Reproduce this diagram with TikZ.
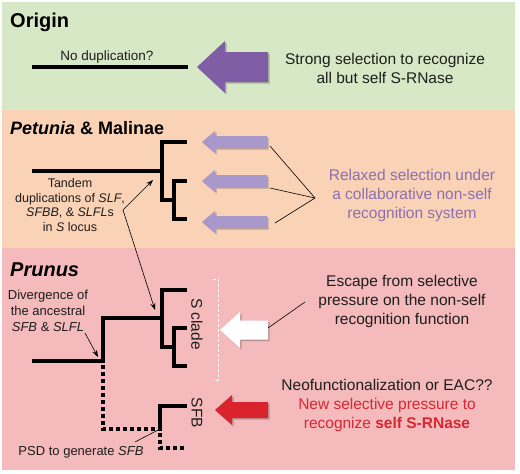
\documentclass[tikz,border=0pt]{standalone}
\usepackage{fontspec}
\setmainfont{Liberation Sans}
\usetikzlibrary{arrows.meta,shadows}
\definecolor{gbg}{RGB}{214,232,198}
\definecolor{pbg}{RGB}{250,210,182}
\definecolor{rbg}{RGB}{244,186,188}
\definecolor{dpur}{RGB}{128,94,166}
\definecolor{lpur}{RGB}{168,152,204}
\definecolor{tpur}{RGB}{140,112,174}
\definecolor{ared}{RGB}{217,36,46}
\definecolor{tred}{RGB}{214,40,50}
\definecolor{txt}{RGB}{30,30,30}
\begin{document}
\begin{tikzpicture}[x=1pt,y=-1pt,
  tree/.style={line width=3.2pt, line join=miter, line cap=rect},
  dotline/.style={line width=3.5pt, dash pattern=on 3.5pt off 3.5pt},
  thinln/.style={line width=0.6pt, black},
  shad/.style={drop shadow={shadow xshift=1.5pt, shadow yshift=-1.5pt, opacity=0.35, fill=black!70}},
  bigtxt/.style={font=\fontsize{15.5}{19}\selectfont, align=center, inner sep=0pt, text=txt},
  smalltxt/.style={font=\fontsize{13}{16}\selectfont, align=center, inner sep=0pt, text=txt},
  title/.style={font=\fontsize{20}{24}\selectfont\bfseries, inner sep=0pt, anchor=base west, text=black},
  dub/.style={{Stealth[length=7pt,width=5pt]}-{Stealth[length=7pt,width=5pt]}},
  sarr/.style={-{Stealth[length=7pt,width=5pt]}}
]
\useasboundingbox (0,0) rectangle (520,474);
\fill[white] (0,0) rectangle (520,474);
% panels
\fill[gbg] (2,2) rectangle (515,110);
\fill[pbg] (2,110) rectangle (515,248);
\fill[rbg] (2,248) rectangle (515,470);

% titles
\node[title] (tOrigin) at (10,27) {Origin};
\node[title, font=\fontsize{18}{22}\selectfont\bfseries] (tPet) at (10,134) {\textit{Petunia} \& Malinae};
\node[title] (tPru) at (10,276) {\textit{Prunus}};

% ---- Origin ----
\coordinate (o1) at (34,67);
\coordinate (o2) at (186,67);
\draw[tree] (o1) -- (o2);
\node[smalltxt, font=\fontsize{13.5}{16}\selectfont] (nodup) at (107,57) {No duplication?};
\fill[dpur, shad] (197,67) -- (225,41) -- (225,52) -- (268,52) -- (268,82) -- (225,82) -- (225,93) -- cycle;
\node[bigtxt] (strong) at (385,68) {Strong selection to recognize\\all but self S-RNase};

% ---- Petunia & Malinae ----
\coordinate (pr) at (34,171);
\coordinate (pj) at (162,171);
\draw[tree] (pr) -- (pj);
\draw[tree] (185,142) -- (162,142) -- (162,200) -- (174,200);
\draw[tree] (185,181) -- (174,181) -- (174,219) -- (185,219);
\node[smalltxt, font=\fontsize{12.5}{14.7}\selectfont] (tandem) at (70,205)
  {Tandem\\duplications of \textit{SLF},\\\textit{SFBB}, \& \textit{SLFL}s\\in \textit{S} locus};
\foreach \c/\n in {142/1,181/2,222/3}{
  \fill[lpur, shad] (202,\c) -- (215,\c-11) -- (215,\c-6) -- (267,\c-6) -- (267,\c+6) -- (215,\c+6) -- (215,\c+11) -- cycle;
}
\coordinate (la1) at (270,146);
\coordinate (la2) at (270,188);
\coordinate (la3) at (275,223);
\coordinate (lv) at (315,198);
\draw[thinln] (la1) -- (lv) -- (la3);
\draw[thinln] (la2) -- (lv);
\node[bigtxt, text=tpur] (relaxed) at (412,195) {Relaxed selection under\\a collaborative non-self\\recognition system};

% double arrow between the two trees
\coordinate (dupP) at (153,180);
\coordinate (dupV) at (123,210);
\coordinate (dupR) at (155,310);
\draw[thinln, dub] (dupP) -- (dupV) -- (dupR);

% ---- Prunus ----
\coordinate (rr) at (34,361);
\coordinate (rj) at (103,361);
\draw[tree] (rr) -- (rj) -- (103,318) -- (162,318);
\draw[tree] (185,290) -- (162,290) -- (162,347) -- (174,347);
\draw[tree] (185,328) -- (174,328) -- (174,366) -- (185,366);
\draw[dotline] (103,365) -- (103,429) -- (158,429);
\draw[dotline] (160,433) -- (160,448) -- (185,448);
\coordinate (sj) at (160,429);
\draw[tree] (sj) -- (160,406) -- (185,406);

\node[smalltxt] (diverg) at (48,311) {Divergence of\\the ancestral\\\textit{SFB} \& \textit{SLFL}};
\coordinate (dvs) at (85,333);
\coordinate (dve) at (98,357);
\draw[thinln, sarr] (dvs) -- (dve);

\node[smalltxt] (psd) at (81,452) {PSD to generate \textit{SFB}};
\coordinate (psdl) at (135,442);
\draw[thinln] (psdl) -- (sj);

\node[bigtxt, rotate=-90] (sclade) at (197,324) {S clade};
\node[bigtxt, rotate=-90] (sfb) at (197,413) {SFB};
\draw[white, line width=1pt, dash pattern=on 3pt off 2pt] (213,279) -- (218,279) -- (218,380) -- (213,380);

\fill[white, shad] (220,330) -- (240,312) -- (240,320.5) -- (268,320.5) -- (268,339.5) -- (240,339.5) -- (240,348) -- cycle;
\coordinate (wa) at (268,328);
\coordinate (we) at (305,302);
\draw[thinln] (wa) -- (we);
\node[bigtxt] (escape) at (402,301) {Escape from selective\\pressure on the non-self\\recognition function};

\fill[ared, shad] (215,410) -- (232,395) -- (232,402) -- (268,402) -- (268,418) -- (232,418) -- (232,425) -- cycle;
\node[bigtxt] (neo) at (387,405) {Neofunctionalization or EAC??\\\textcolor{tred}{New selective pressure to}\\\textcolor{tred}{recognize \textbf{self S-RNase}}};
\end{tikzpicture}
\end{document}
